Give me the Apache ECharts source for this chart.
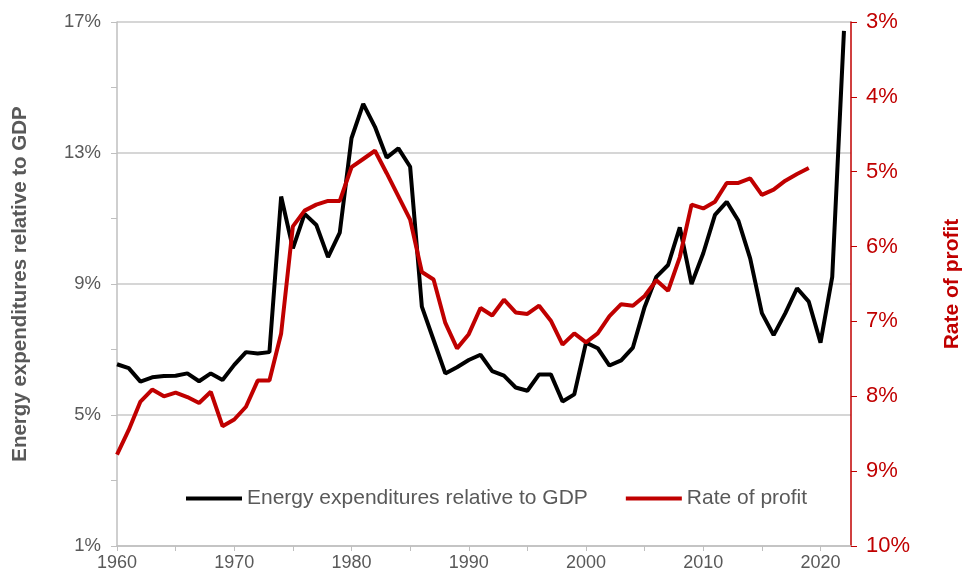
<!DOCTYPE html>
<html>
<head>
<meta charset="utf-8">
<script src="https://cdn.jsdelivr.net/npm/echarts@6/dist/echarts.min.js"></script>
<style>
html,body{margin:0;padding:0;background:#fff;}
#chart{width:971px;height:581px;}
</style>
</head>
<body>
<div id="chart"></div>
<script>
var years = [];
for (var y = 1960; y <= 2022; y++) years.push(y);

var energyShare = [
  6.55, 6.43, 6.02, 6.15, 6.19, 6.20, 6.27, 6.03, 6.27, 6.07,
  6.53, 6.92, 6.88, 6.92, 11.67, 10.09, 11.14, 10.80, 9.82, 10.57,
  13.45, 14.50, 13.80, 12.86, 13.14, 12.58, 8.31, 7.29, 6.27, 6.46,
  6.68, 6.84, 6.34, 6.20, 5.84, 5.74, 6.24, 6.24, 5.41, 5.63,
  7.21, 7.04, 6.51, 6.67, 7.06, 8.30, 9.22, 9.58, 10.73, 9.00,
  9.94, 11.11, 11.51, 10.93, 9.78, 8.11, 7.44, 8.11, 8.87, 8.46,
  7.21, 9.22, 16.73
];

var profitRate = [
  8.78, 8.45, 8.07, 7.91, 8.00, 7.95, 8.01, 8.09, 7.94, 8.40,
  8.31, 8.14, 7.79, 7.79, 7.16, 5.73, 5.52, 5.44, 5.39, 5.39,
  4.94, 4.83, 4.72, 5.02, 5.33, 5.64, 6.34, 6.44, 7.02, 7.36,
  7.17, 6.82, 6.92, 6.71, 6.88, 6.90, 6.79, 6.99, 7.31, 7.16,
  7.28, 7.16, 6.93, 6.77, 6.79, 6.66, 6.45, 6.59, 6.14, 5.44,
  5.49, 5.40, 5.15, 5.15, 5.09, 5.31, 5.24, 5.12, 5.03, 4.95
];

var leftTicks = ['1%', '5%', '9%', '13%', '17%'];
var seriesNames = ['Energy expenditures relative to GDP', 'Rate of profit'];

function pairs(vals) {
  return vals.map(function (v, i) { return [years[i], v]; });
}

var gray = '#595959';
var red = '#C00000';
var font = 'Liberation Sans, Arial, sans-serif';
var chart = echarts.init(document.getElementById('chart'));
chart.setOption({
  animation: false,
  backgroundColor: '#ffffff',
  grid: { left: 117, right: 111, top: 22, bottom: 35, containLabel: false },
  legend: {
    left: 181, top: 483,
    itemWidth: 56, itemHeight: 4, itemGap: 38,
    icon: 'rect',
    textStyle: { fontFamily: font, fontSize: 21, color: gray, padding: [0, 0, 0, 0] },
    data: seriesNames
  },
  xAxis: {
    type: 'value', min: 1960, max: 2022.6, interval: 5,
    axisLine: { lineStyle: { color: '#BFBFBF', width: 1.5 } },
    axisTick: { show: true, length: 5, lineStyle: { color: '#BFBFBF' } },
    splitLine: { show: false },
    axisLabel: {
      showMaxLabel: false,
      fontFamily: font, fontSize: 18, color: gray, margin: 8,
      formatter: function (v) { return v % 10 === 0 ? String(v) : ''; }
    }
  },
  yAxis: [
    {
      type: 'value', min: 1, max: 17, interval: 4,
      name: 'Energy expenditures relative to GDP',
      nameLocation: 'middle', nameGap: 86,
      nameTextStyle: { fontFamily: font, fontSize: 20.5, fontWeight: 'bold', color: gray },
      axisLine: { show: true, lineStyle: { color: '#BFBFBF', width: 1.5 } },
      axisTick: { show: true, length: 6, lineStyle: { color: '#BFBFBF' } },
      minorTick: { show: true, splitNumber: 2, length: 6, lineStyle: { color: '#BFBFBF' } },
      splitLine: { show: true, lineStyle: { color: '#C8C8C8', width: 1.5 } },
      axisLabel: {
        fontFamily: font, fontSize: 18.5, color: gray, margin: 16,
        formatter: function (v) { return leftTicks[(v - 1) / 4]; }
      }
    },
    {
      type: 'value', min: 3, max: 10, interval: 1, inverse: true,
      position: 'right',
      name: 'Rate of profit',
      nameLocation: 'middle', nameGap: 91,
      nameTextStyle: { fontFamily: font, fontSize: 21, fontWeight: 'bold', color: red },
      axisLine: { show: true, lineStyle: { color: red, width: 1.5 } },
      axisTick: { show: true, length: 6, lineStyle: { color: red } },
      splitLine: { show: false },
      axisLabel: {
        fontFamily: font, fontSize: 22, color: red, margin: 15,
        formatter: function (v) { return v + '%'; }
      }
    }
  ],
  series: [
    {
      name: seriesNames[0], type: 'line', yAxisIndex: 0,
      data: pairs(energyShare), showSymbol: false, symbol: 'none',
      lineStyle: { color: '#000000', width: 4 }, itemStyle: { color: '#000000' }
    },
    {
      name: seriesNames[1], type: 'line', yAxisIndex: 1,
      data: pairs(profitRate), showSymbol: false, symbol: 'none',
      lineStyle: { color: red, width: 4 }, itemStyle: { color: red }
    }
  ]
});
</script>
</body>
</html>
